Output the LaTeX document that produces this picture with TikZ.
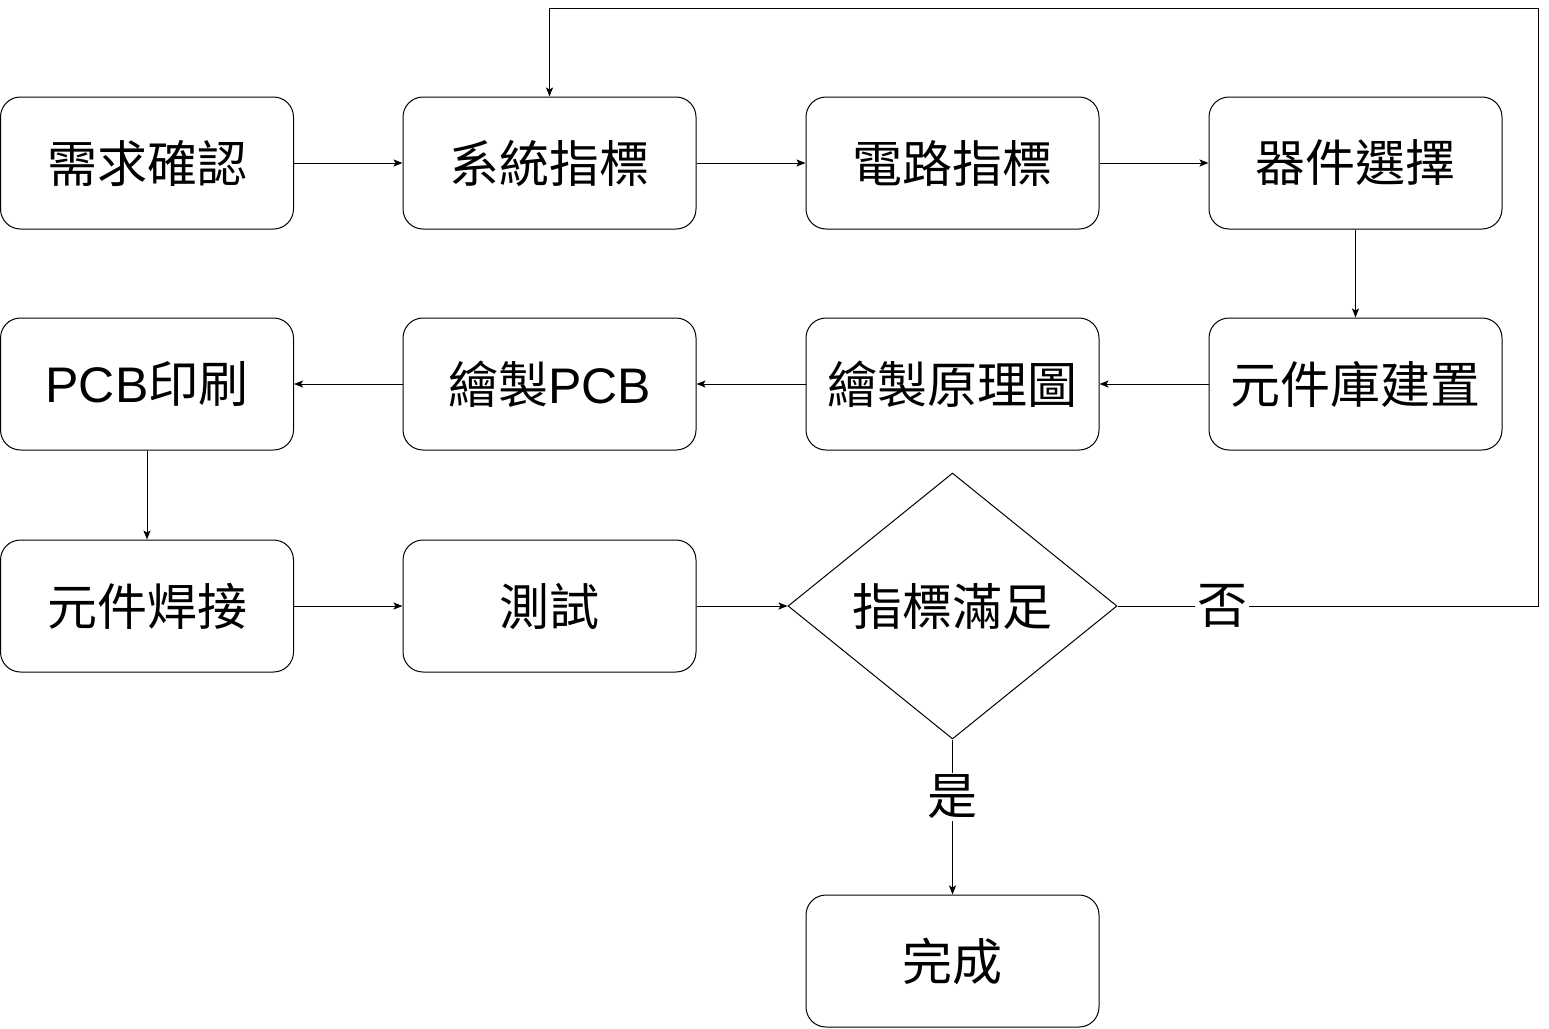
\documentclass[tikz,border=0pt]{standalone}
\usepackage{fontspec}
\setmainfont{Liberation Sans}
\newfontfamily\cjk{Noto Sans CJK TC}
\usetikzlibrary{shapes.geometric,arrows.meta}
\begin{document}
\begin{tikzpicture}[x=1pt,y=-1pt,
  box/.style={draw=black,line width=1pt,rounded corners=20pt,minimum width=293pt,minimum height=132pt,inner sep=0pt,font=\fontsize{50}{58}\selectfont\cjk},
  dec/.style={draw=black,line width=1pt,diamond,minimum width=329pt,minimum height=266pt,inner sep=0pt,font=\fontsize{50}{58}\selectfont\cjk},
  lab/.style={fill=white,inner sep=2pt,font=\fontsize{50}{58}\selectfont\cjk},
  conn/.style={line width=1pt,-{Stealth[length=9pt,width=7pt,inset=2pt]}}]
\useasboundingbox (0,0) rectangle (1549,1028);
\fill[white] (0,0) rectangle (1549,1028);
\node[box] (a1) at (147,163) {需求確認};
\node[box] (a2) at (549.5,163) {系統指標};
\node[box] (a3) at (952.5,163) {電路指標};
\node[box] (a4) at (1355.5,163) {器件選擇};
\node[box] (b4) at (1355.5,384) {元件庫建置};
\node[box] (b3) at (952.5,384) {繪製原理圖};
\node[box] (b2) at (549.5,384) {繪製{\fontspec{Liberation Sans}PCB}};
\node[box] (b1) at (147,384) {{\fontspec{Liberation Sans}PCB}印刷};
\node[box] (c1) at (147,606) {元件焊接};
\node[box] (c2) at (549.5,606) {測試};
\node[dec] (d) at (952.5,606) {指標滿足};
\node[box] (e) at (952.5,961) {完成};
\coordinate (r1) at (1538,606);
\coordinate (r2) at (1538,8);
\coordinate (r3) at (549.5,8);
\draw[conn] (a1) -- (a2);
\draw[conn] (a2) -- (a3);
\draw[conn] (a3) -- (a4);
\draw[conn] (a4) -- (b4);
\draw[conn] (b4) -- (b3);
\draw[conn] (b3) -- (b2);
\draw[conn] (b2) -- (b1);
\draw[conn] (b1) -- (c1);
\draw[conn] (c1) -- (c2);
\draw[conn] (c2) -- (d);
\draw[conn] (d.east) -- (r1) -- (r2) -- (r3) -- (a2.north);
\draw[conn] (d.south) -- (e.north);
\node[lab] (no) at (1222,606) {否};
\node[lab] (yes) at (952.5,797) {是};
\end{tikzpicture}
\end{document}
